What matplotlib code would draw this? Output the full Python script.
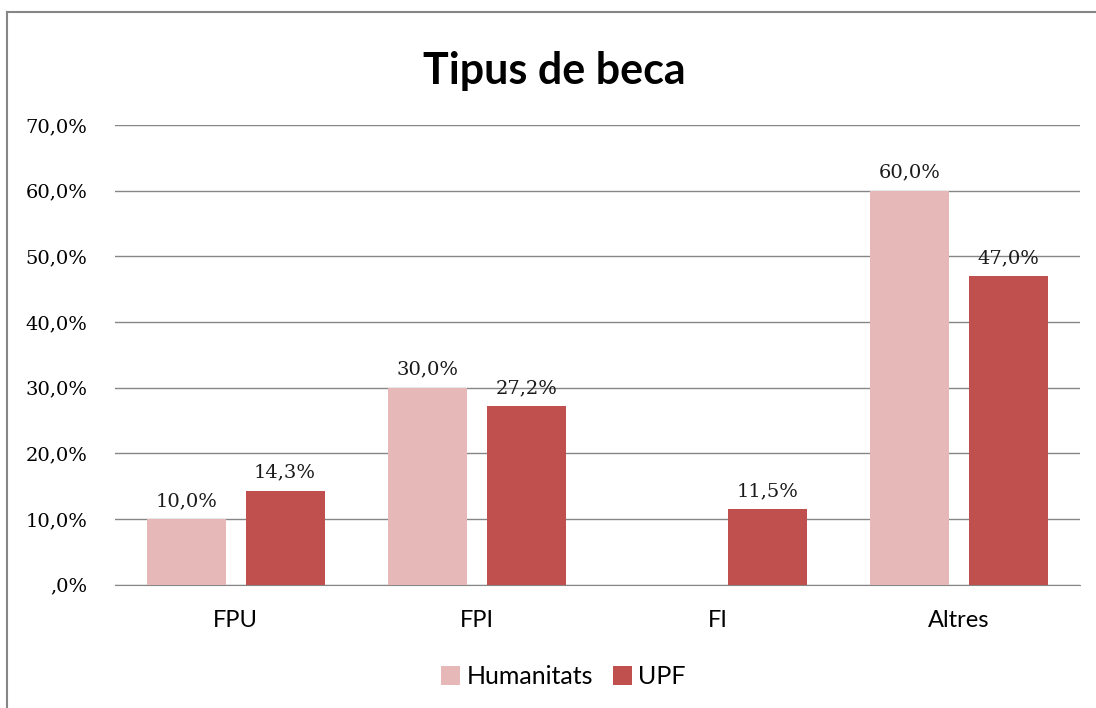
import numpy as np
import matplotlib.pyplot as plt
from matplotlib.lines import Line2D

categories = ['FPU', 'FPI', 'FI', 'Altres']
humanitats = [10.0, 30.0, 0.0, 60.0]
upf = [14.3, 27.2, 11.5, 47.0]
yticks = [0, 10, 20, 30, 40, 50, 60, 70]

plt.rcParams['font.family'] = ['Lato', 'DejaVu Sans']
num_font = 'DejaVu Serif'

def fmt(v):
    return ('%.1f%%' % v).replace('.', ',')

def tick_fmt(v):
    return ',0%' if v == 0 else fmt(v)

fig = plt.figure(figsize=(10.96, 7.08), dpi=100)
ax = fig.add_axes([0.105, 0.174, 0.88, 0.6494])

x = np.arange(len(categories))
w = 0.328
off = 0.205
c_h = '#E6B9B8'
c_u = '#C0504D'
b1 = ax.bar(x - off, humanitats, w, color=c_h, label='Humanitats', zorder=3)
b2 = ax.bar(x + off, upf, w, color=c_u, label='UPF', zorder=3)

# data labels (no label for the empty bar)
for xi, v in zip(x - off, humanitats):
    if v > 0:
        ax.text(xi, v + 1.4, fmt(v), ha='center', va='bottom', fontsize=14,
                family=num_font, color='#1a1a1a')
for xi, v in zip(x + off, upf):
    ax.text(xi, v + 1.4, fmt(v), ha='center', va='bottom', fontsize=14,
            family=num_font, color='#1a1a1a')

ax.set_xlim(-0.5, 3.5)
ax.set_ylim(0, 70)
ax.set_yticks(yticks)
ax.set_yticklabels([tick_fmt(v) for v in yticks], fontsize=14, family=num_font)
ax.set_xticks(x)
ax.set_xticklabels(categories, fontsize=17)
ax.tick_params(axis='both', length=0)
ax.tick_params(axis='y', pad=20)
ax.tick_params(axis='x', pad=18)
ax.grid(axis='y', color='#868686', linewidth=1, zorder=0)
for s in ['top', 'right', 'left']:
    ax.spines[s].set_visible(False)
ax.spines['bottom'].set_color('#868686')

fig.text(0.506, 0.9, 'Tipus de beca', ha='center', va='center', fontsize=31, fontweight='bold')

fig.legend(handles=[b1, b2], loc='center', bbox_to_anchor=(0.514, 0.044), ncol=2,
           frameon=False, fontsize=18, handlelength=0.75, handleheight=0.75,
           handletextpad=0.25, columnspacing=0.8)

# outer chart border (only left and top are visible in the crop)
bx, by = 7 / 1096, 1 - 12 / 708
fig.add_artist(Line2D([bx, bx], [0, by], transform=fig.transFigure, color='#868686', lw=1.5))
fig.add_artist(Line2D([bx, 1], [by, by], transform=fig.transFigure, color='#868686', lw=1.5))

fig.savefig('out.png', dpi=100)
